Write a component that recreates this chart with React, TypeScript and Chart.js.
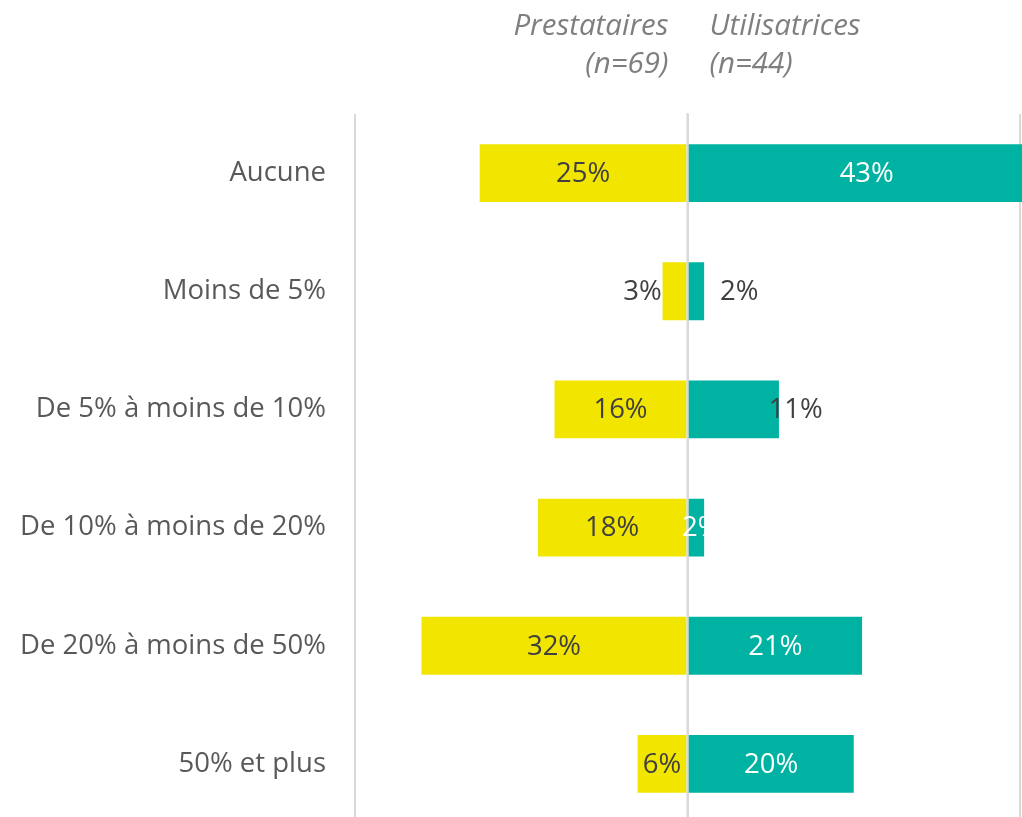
import React, { useEffect, useRef } from "react";
import { Chart, registerables } from "chart.js";

Chart.register(...registerables);

const categories = [
  "Aucune",
  "Moins de 5%",
  "De 5% à moins de 10%",
  "De 10% à moins de 20%",
  "De 20% à moins de 50%",
  "50% et plus",
];
const prestataires = [25, 3, 16, 18, 32, 6];
const utilisatrices = [43, 2, 11, 2, 21, 20];
const seriesNames = ["Prestataires", "Utilisatrices"];
const seriesCounts = ["(n=69)", "(n=44)"];

// label styling (shift in px relative to bar centre, colour)
const prestLabelShift = [0, -32, 0, 0, 0, 0];
const utilLabelShift = [0, 43, 62, 5, 0, 0];
const prestLabelColor = ["#404040", "#404040", "#404040", "#404040", "#404040", "#404040"];
const utilLabelColor = ["#ffffff", "#404040", "#404040", "#ffffff", "#ffffff", "#ffffff"];

const FONT = "'Open Sans', 'Noto Sans', sans-serif";
const YELLOW = "#F2E500";
const TEAL = "#00B2A2";
const GRID = "#d9d9d9";

const labelPlugin = {
  id: "barLabels",
  afterDatasetsDraw(chart: any) {
    const ctx = chart.ctx;
    const xScale = chart.scales.x;
    const area = chart.chartArea;
    // zero line above bars
    const x0 = xScale.getPixelForValue(0);
    ctx.save();
    ctx.strokeStyle = GRID;
    ctx.lineWidth = 2;
    ctx.beginPath();
    ctx.moveTo(x0, area.top - 1);
    ctx.lineTo(x0, area.bottom);
    ctx.stroke();

    ctx.font = `27.5px ${FONT}`;
    ctx.textAlign = "center";
    ctx.textBaseline = "middle";
    chart.data.datasets.forEach((ds: any, di: number) => {
      const meta = chart.getDatasetMeta(di);
      const shifts = di === 0 ? prestLabelShift : utilLabelShift;
      const colors = di === 0 ? prestLabelColor : utilLabelColor;
      const vals = di === 0 ? prestataires : utilisatrices;
      meta.data.forEach((bar: any, i: number) => {
        const cx = (bar.x + bar.base) / 2 + shifts[i];
        ctx.fillStyle = colors[i];
        ctx.fillText(`${vals[i]}%`, cx, bar.y + 1);
      });
    });

    // header
    ctx.font = `italic 29.5px ${FONT}`;
    ctx.fillStyle = "#7f7f7f";
    ctx.textBaseline = "alphabetic";
    ctx.textAlign = "right";
    ctx.fillText(seriesNames[0], x0 - 19, 35);
    ctx.fillText(seriesCounts[0], x0 - 19, 73);
    ctx.textAlign = "left";
    ctx.fillText(seriesNames[1], x0 + 22, 35);
    ctx.fillText(seriesCounts[1], x0 + 22, 73);
    ctx.restore();
  },
};

export default function App() {
  const ref = useRef<HTMLCanvasElement>(null);
  useEffect(() => {
    if (!ref.current) return;
    const chart = new Chart(ref.current, {
      type: "bar",
      data: {
        labels: categories,
        datasets: [
          {
            label: seriesNames[0],
            data: prestataires.map((v) => -v),
            backgroundColor: YELLOW,
            barPercentage: 0.49,
            categoryPercentage: 1,
            clip: false as any,
          },
          {
            label: seriesNames[1],
            data: utilisatrices,
            backgroundColor: TEAL,
            barPercentage: 0.49,
            categoryPercentage: 1,
            clip: false as any,
          },
        ],
      },
      options: {
        indexAxis: "y",
        animation: false,
        responsive: false,
        devicePixelRatio: 1,
        layout: { padding: { top: 114, right: 2, bottom: 0, left: 0 } },
        plugins: {
          legend: { display: false },
          tooltip: { enabled: false },
        },
        scales: {
          x: {
            stacked: true,
            min: -40,
            max: 40,
            ticks: { display: false, stepSize: 40 },
            grid: { color: GRID, lineWidth: 2, drawTicks: false },
            border: { display: false },
            afterFit: (s: any) => {
              s.height = 0;
            },
          },
          y: {
            stacked: true,
            grid: { display: false, drawTicks: false },
            border: { display: false },
            ticks: {
              color: "#595959",
              font: { family: FONT, size: 27.5 },
              padding: 29,
            },
            afterFit: (s: any) => {
              s.width = 355;
              s.paddingTop = 0;
              s.paddingBottom = 0;
            },
          },
        },
      },
      plugins: [labelPlugin],
    });
    return () => chart.destroy();
  }, []);
  return (
    <div
      style={{
        position: "fixed",
        top: 0,
        left: 0,
        width: 1022,
        height: 817,
        overflow: "hidden",
        background: "#fff",
      }}
    >
      <canvas ref={ref} width={1022} height={823} style={{ display: "block" }} />
    </div>
  );
}
